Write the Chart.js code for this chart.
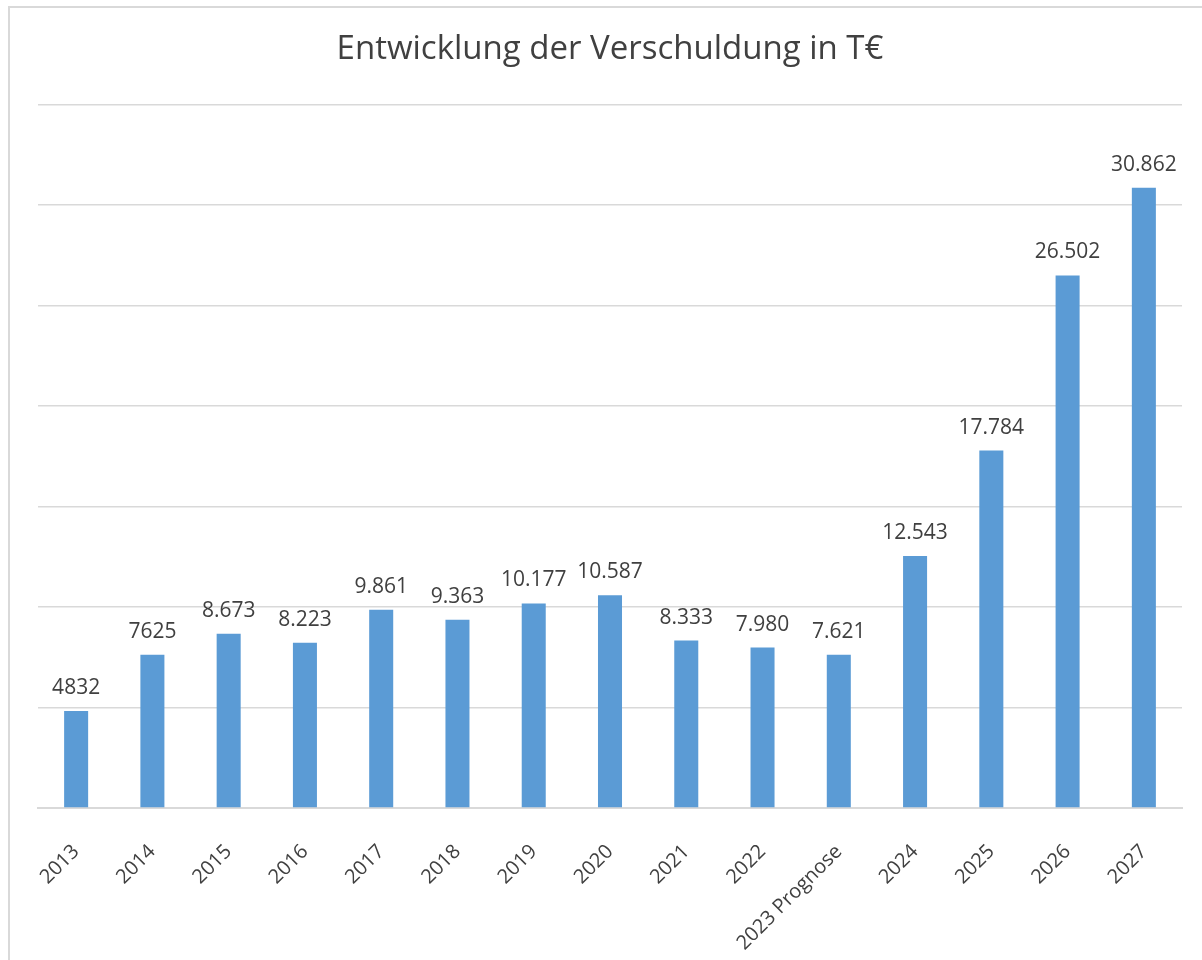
<!DOCTYPE html>
<html lang="de">
<head>
<meta charset="utf-8">
<title>Entwicklung der Verschuldung in T€</title>
<script src="https://cdn.jsdelivr.net/npm/chart.js@4/dist/chart.umd.min.js"></script>
<style>
  html, body { margin: 0; padding: 0; background: #fff; overflow: hidden; }
  #frame {
    position: absolute; left: 8px; top: 6px;
    width: 1300px; height: 1100px;
    border: 2px solid #d9d9d9; box-sizing: border-box;
  }
  #wrap { position: absolute; left: 0; top: 0; width: 1202px; height: 960px; }
</style>
</head>
<body>
<div id="frame"></div>
<div id="wrap"><canvas id="chart-verschuldung"></canvas></div>
<script>
// ── Daten (T€) ───────────────────────────────────────────────────────────────
const JAHRE = [
  '2013','2014','2015','2016','2017','2018','2019','2020',
  '2021','2022','2023 Prognose','2024','2025','2026','2027',
];
const SCHULDEN = [
  4832, 7625, 8673, 8223, 9861, 9363, 10177, 10587,
  8333, 7980, 7621, 12543, 17784, 26502, 30862,
];
// Beschriftungen wie im Original (zwei ohne Tausenderpunkt)
const LABELS_WERTE = [
  '4832','7625','8.673','8.223','9.861','9.363','10.177','10.587',
  '8.333','7.980','7.621','12.543','17.784','26.502','30.862',
];
const Y_MAX  = 35000;
const Y_STEP = 5000;

// ── Stil ─────────────────────────────────────────────────────────────────────
const FONT      = "'Open Sans', 'DejaVu Sans', sans-serif";
const TEXT_COL  = '#404040';
const GRID_COL  = '#d9d9d9';
const BAR_COL   = '#5b9bd5';
const X_AXIS_H  = 152;   // Höhe der Rubrikenachse (lange Beschriftung läuft unten raus)

// Werte über den Balken
const wertLabels = {
  id: 'wertLabels',
  afterDatasetsDraw(chart) {
    const { ctx } = chart;
    const meta = chart.getDatasetMeta(0);
    ctx.save();
    ctx.fillStyle    = TEXT_COL;
    ctx.font         = `21px ${FONT}`;
    ctx.textAlign    = 'center';
    ctx.textBaseline = 'alphabetic';
    meta.data.forEach((bar, i) => {
      ctx.fillText(LABELS_WERTE[i], bar.x, bar.y - 17);
    });
    ctx.restore();
  }
};

new Chart(document.getElementById('chart-verschuldung'), {
  type: 'bar',
  data: {
    labels: JAHRE,
    datasets: [{
      label:              'Verschuldung',
      data:               SCHULDEN,
      backgroundColor:    BAR_COL,
      borderWidth:        0,
      barPercentage:      0.315,
      categoryPercentage: 1,
    }]
  },
  options: {
    responsive:          true,
    maintainAspectRatio: false,
    animation:           false,
    layout: { padding: { top: 20, left: 38, right: 20, bottom: 0 } },
    plugins: {
      legend:  { display: false },
      tooltip: { enabled: false },
      title: {
        display: true,
        text:    'Entwicklung der Verschuldung in T€',
        color:   TEXT_COL,
        font:    { family: FONT, size: 33, weight: 'normal' },
        padding: { top: 10, bottom: 35 },
      }
    },
    scales: {
      x: {
        grid:   { display: false, drawTicks: false },
        border: { display: true, color: GRID_COL, width: 2 },
        afterFit: scale => { scale.height = X_AXIS_H; },
        ticks: {
          color:       TEXT_COL,
          font:        { family: FONT, size: 20 },
          minRotation: 45,
          maxRotation: 45,
          padding:     32,
          autoSkip:    false,
        }
      },
      y: {
        min: 0, max: Y_MAX,
        grid:   { color: GRID_COL, lineWidth: 1.5, drawTicks: false },
        border: { display: false },
        ticks:  { display: false, stepSize: Y_STEP },
      }
    }
  },
  plugins: [wertLabels]
});
</script>
</body>
</html>
